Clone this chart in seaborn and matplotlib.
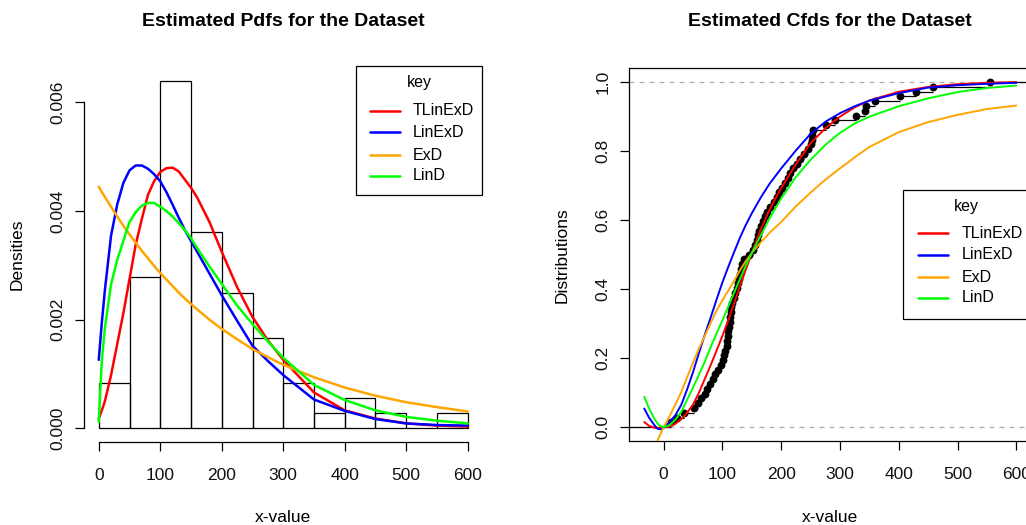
import numpy as np
import pandas as pd
import matplotlib
matplotlib.use("Agg")
import matplotlib.pyplot as plt
import seaborn as sns
from matplotlib.lines import Line2D
from matplotlib.patches import Rectangle

# ---------------- data ----------------
data_values = [12, 22, 35,
               52, 58, 64, 70, 74, 79, 84, 88, 93, 97,
               101, 103, 105, 107, 108, 109, 110, 111, 112, 113, 114, 115, 116,
               119, 121, 124, 126, 128, 130, 132, 134, 137, 145,
               152, 155, 158, 160, 162, 165, 169, 172, 175, 181, 187, 192, 197,
               202, 206, 211, 215, 220, 226, 232, 238, 245,
               251, 252, 253, 254, 277, 291,
               328, 342, 345, 359, 402, 430, 458, 555]
hist_breaks = [0, 50, 100, 150, 200, 250, 300, 350, 400, 450, 500, 550, 600]

series_names = ["TLinExD", "LinExD", "ExD", "LinD"]
series_colors = ["#FF0000", "#0000FF", "#FFA500", "#00FF00"]

pdf_x = [0, 5, 10, 20, 30, 40, 50, 60, 70, 80, 90, 100, 110, 120, 130, 140, 150, 160,
         180, 200, 225, 250, 275, 300, 350, 400, 450, 500, 550, 600]
pdf_tlinexd = [0.00018, 0.00033, 0.00050, 0.00098, 0.00155, 0.00212, 0.00275, 0.00338,
               0.00385, 0.00430, 0.00455, 0.00472, 0.00479, 0.00480, 0.00473, 0.00458,
               0.00443, 0.00425, 0.00380, 0.00325, 0.00260, 0.00205, 0.00162, 0.00126,
               0.00066, 0.00033, 0.00018, 0.00009, 0.00005, 0.00003]
pdf_linexd = [0.00126, 0.00195, 0.00255, 0.00355, 0.00412, 0.00452, 0.00475, 0.00484,
              0.00484, 0.00478, 0.00468, 0.00455, 0.00435, 0.00412, 0.00388, 0.00365,
              0.00345, 0.00325, 0.00285, 0.00245, 0.00198, 0.00152, 0.00124, 0.00098,
              0.00053, 0.00032, 0.00017, 0.00009, 0.00006, 0.00005]
pdf_exd = [0.00445, 0.00435, 0.00426, 0.00408, 0.00390, 0.00373, 0.00357, 0.00342,
           0.00327, 0.00313, 0.00299, 0.00286, 0.00274, 0.00262, 0.00250, 0.00239,
           0.00229, 0.00219, 0.00200, 0.00183, 0.00164, 0.00146, 0.00131, 0.00117,
           0.00094, 0.00075, 0.00060, 0.00048, 0.00039, 0.00031]
pdf_lind = [0.00012, 0.00125, 0.00185, 0.00265, 0.00310, 0.00345, 0.00380, 0.00398,
            0.00410, 0.00415, 0.00415, 0.00408, 0.00400, 0.00390, 0.00378, 0.00365,
            0.00350, 0.00332, 0.00298, 0.00266, 0.00226, 0.00192, 0.00160, 0.00130,
            0.00080, 0.00052, 0.00033, 0.00021, 0.00014, 0.00009]

cdf_x = [-33, -25, -15, -10, -5, 0, 10, 20, 30, 40, 50, 60, 70, 80, 90, 100, 110, 120,
         130, 140, 150, 165, 180, 200, 225, 250, 275, 300, 325, 350, 400, 450, 500, 550, 600]
cdf_tlinexd = [0.015, 0.004, -0.002, -0.002, -0.001, 0.000, 0.002, 0.010, 0.024, 0.042,
               0.066, 0.100, 0.140, 0.180, 0.222, 0.265, 0.310, 0.360, 0.410, 0.458,
               0.505, 0.572, 0.630, 0.693, 0.762, 0.823, 0.866, 0.900, 0.927, 0.947,
               0.972, 0.986, 0.994, 0.998, 1.000]
cdf_linexd = [0.054, 0.028, 0.004, -0.005, -0.006, -0.002, 0.015, 0.035, 0.065, 0.110,
              0.160, 0.215, 0.268, 0.318, 0.370, 0.420, 0.465, 0.508, 0.550, 0.587,
              0.620, 0.665, 0.705, 0.750, 0.802, 0.850, 0.885, 0.910, 0.930, 0.946,
              0.968, 0.984, 0.991, 0.995, 0.998]
cdf_lind = [0.088, 0.055, 0.022, 0.010, 0.003, 0.000, 0.006, 0.022, 0.045, 0.080,
            0.115, 0.152, 0.190, 0.232, 0.272, 0.310, 0.350, 0.390, 0.430, 0.470,
            0.505, 0.555, 0.605, 0.663, 0.725, 0.775, 0.818, 0.853, 0.880, 0.900,
            0.930, 0.953, 0.971, 0.983, 0.990]
cdf_exd_x = [-15, -10, -5, 0, 10, 20, 30, 40, 50, 60, 70, 80, 90, 100, 110, 120,
             130, 140, 150, 165, 180, 200, 225, 250, 275, 300, 325, 350, 400, 450, 500, 550, 600]
cdf_exd = [-0.055, -0.037, -0.018, 0.000, 0.032, 0.066, 0.102, 0.145, 0.187, 0.228,
           0.265, 0.302, 0.338, 0.368, 0.396, 0.425, 0.455, 0.482, 0.505, 0.535,
           0.563, 0.595, 0.640, 0.680, 0.717, 0.750, 0.782, 0.812, 0.855, 0.884,
           0.905, 0.922, 0.932]

pdf_ticks = [0.000, 0.002, 0.004, 0.006]
pdf_xticks = [0, 100, 200, 300, 400, 500, 600]
cdf_ticks = [0.0, 0.2, 0.4, 0.6, 0.8, 1.0]
cdf_xticks = [0, 100, 200, 300, 400, 500, 600]

# ---------------- style ----------------
sns.set_style("white")
plt.rcParams["font.family"] = ["Liberation Sans", "DejaVu Sans"]
plt.rcParams["axes.linewidth"] = 0.9
plt.rcParams["text.color"] = "black"
plt.rcParams["axes.labelcolor"] = "black"

W, H = 1026, 525
fig = plt.figure(figsize=(W / 100, H / 100), dpi=100)

def fx(px):
    return px / W

def fy(py):
    return 1 - py / H

ax1 = fig.add_axes([fx(84), fy(442.2), (482.5 - 84) / W, (442.2 - 67.2) / H])
ax2 = fig.add_axes([fx(629), fy(441), (1031 - 629) / W, (441 - 68.3) / H])

TICK_FS = 12.5
LAB_FS = 12.5
LEG_FS = 11.5

# ---------------- left: histogram + pdfs ----------------
sns.histplot(x=data_values, bins=hist_breaks, stat="density", fill=False,
             color="black", linewidth=0.9, ax=ax1)
pdf_series = [pdf_tlinexd, pdf_linexd, pdf_exd, pdf_lind]
for name, col, vals in zip(series_names, series_colors, pdf_series):
    sns.lineplot(x=pdf_x, y=vals, color=col, linewidth=1.8, ax=ax1, legend=False)

ax1.set_xlim(-24, 624)
ax1.set_ylim(-0.000256, 0.00665)
for s in ["top", "right"]:
    ax1.spines[s].set_visible(False)
ax1.spines["left"].set_bounds(0, 0.006)
ax1.spines["bottom"].set_bounds(0, 600)
for s in ["left", "bottom"]:
    ax1.spines[s].set_color("black")
ax1.set_yticks(pdf_ticks)
ax1.set_yticklabels([f"{v:.3f}" for v in pdf_ticks])
ax1.set_xticks(pdf_xticks)
ax1.set_xticklabels([str(v) for v in pdf_xticks])

ax1.set_xlabel("x-value", fontsize=LAB_FS)
ax1.set_ylabel("Densities", fontsize=LAB_FS)

# ---------------- right: ecdf + cdfs ----------------
xs = np.sort(np.asarray(data_values, dtype=float))
Fs = np.arange(1, len(xs) + 1) / len(xs)
xlim2 = (-59, 625)
ax2.set_xlim(*xlim2)
ax2.set_ylim(-0.04, 1.04)
ax2.axhline(0, color="#B0B0B0", linestyle=(0, (4, 4)), linewidth=0.9, zorder=1)
ax2.axhline(1, color="#B0B0B0", linestyle=(0, (4, 4)), linewidth=0.9, zorder=1)
seg_starts = np.concatenate([[xlim2[0]], xs])
seg_ends = np.concatenate([xs, [xlim2[1]]])
seg_levels = np.concatenate([[0.0], Fs])
ax2.hlines(seg_levels, seg_starts, seg_ends, colors="black", linewidth=0.9, zorder=2)
sns.scatterplot(x=xs, y=Fs, color="black", s=32, edgecolor="black", linewidth=0,
                ax=ax2, zorder=3, legend=False)

cdf_series = [(cdf_x, cdf_tlinexd), (cdf_x, cdf_linexd), (cdf_exd_x, cdf_exd), (cdf_x, cdf_lind)]
for name, col, (cx, cy) in zip(series_names, series_colors, cdf_series):
    sns.lineplot(x=cx, y=cy, color=col, linewidth=1.4, ax=ax2, legend=False, zorder=4)

for s in ax2.spines.values():
    s.set_color("black")
ax2.set_yticks(cdf_ticks)
ax2.set_yticklabels([f"{v:.1f}" for v in cdf_ticks])
ax2.set_xticks(cdf_xticks)
ax2.set_xticklabels([str(v) for v in cdf_xticks])
ax2.set_xlabel("x-value", fontsize=LAB_FS)
ax2.set_ylabel("Distributions", fontsize=LAB_FS)

# ---------------- common axis styling ----------------
for ax in (ax1, ax2):
    ax.tick_params(axis="both", direction="out", length=6.5, width=0.9, color="black",
                   labelsize=TICK_FS, labelcolor="#111111")
    ax.tick_params(axis="y", pad=7)
    ax.tick_params(axis="x", pad=12)
    ax.tick_params(left=True, bottom=True)
    for lab in ax.get_yticklabels():
        lab.set_rotation(90)
        lab.set_va("center")
    ax.xaxis.label.set_va("center")
    ax.yaxis.label.set_va("center")
    ax.grid(False)

ax1.xaxis.set_label_coords(0.5, (442.2 - 517) / (442.2 - 67.2))
ax1.yaxis.set_label_coords((17 - 84) / (482.5 - 84), 0.5)
ax2.xaxis.set_label_coords(0.5, (441 - 517) / (441 - 68.3))
ax2.yaxis.set_label_coords((562 - 629) / (1031 - 629), 0.5)

# ---------------- titles ----------------
fig.text(fx(283), fy(22), "Estimated Pdfs for the Dataset", ha="center", va="center",
         fontsize=14, fontweight="bold")
fig.text(fx(830), fy(22), "Estimated Cfds for the Dataset", ha="center", va="center",
         fontsize=14, fontweight="bold")

# ---------------- legends (R-style "key" boxes) ----------------
def draw_key(box_l, box_t, box_r, box_b, title_xy, line_x0, line_x1, text_x, entry_ys):
    tr = fig.transFigure
    rect = Rectangle((fx(box_l), fy(box_b)), (box_r - box_l) / W, (box_b - box_t) / H,
                     transform=tr, facecolor="white", edgecolor="black", linewidth=0.9,
                     zorder=10)
    fig.add_artist(rect)
    fig.text(fx(title_xy[0]), fy(title_xy[1]), "key", ha="center", va="center",
             fontsize=LEG_FS, zorder=11)
    for name, col, yy in zip(series_names, series_colors, entry_ys):
        fig.add_artist(Line2D([fx(line_x0), fx(line_x1)], [fy(yy), fy(yy)], transform=tr,
                              color=col, linewidth=1.8, zorder=11))
        fig.text(fx(text_x), fy(yy), name, ha="left", va="center", fontsize=LEG_FS, zorder=11)

draw_key(355.7, 66, 482.3, 195, (419, 82.7), 370, 400, 413, [110.7, 132.3, 155, 176])
draw_key(903.3, 190, 1031, 319, (966.7, 206.7), 918, 948, 962, [233, 254.5, 277, 298])

fig.savefig("out.png", dpi=100)
